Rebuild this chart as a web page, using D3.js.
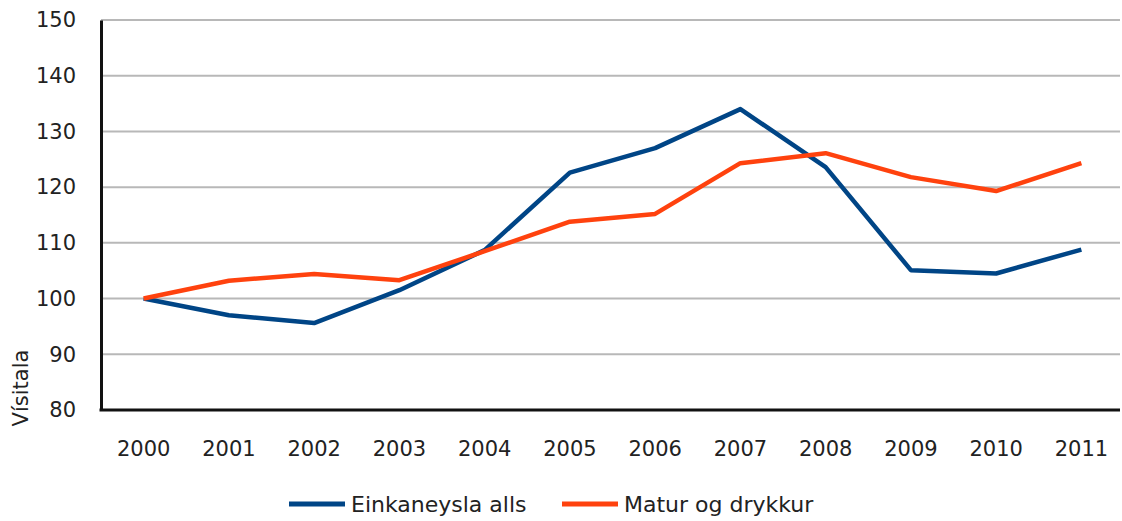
<!DOCTYPE html>
<html>
<head>
<meta charset="utf-8">
<script src="https://cdn.jsdelivr.net/npm/d3@7"></script>
<style>
  body { margin: 0; background: #fff; }
  svg text { font-family: "DejaVu Sans", sans-serif; fill: #222; }
</style>
</head>
<body>
<svg id="chart" width="1122" height="521"></svg>
<script>
// data
var years = ["2000","2001","2002","2003","2004","2005","2006","2007","2008","2009","2010","2011"];
var einkaneysla = [100, 97, 95.6, 101.5, 108.7, 122.6, 127, 134, 123.6, 105.1, 104.5, 108.8];
var matur = [100, 103.2, 104.4, 103.3, 108.5, 113.8, 115.2, 124.3, 126.1, 121.8, 119.3, 124.3];
var yTicks = [80, 90, 100, 110, 120, 130, 140, 150];
var seriesNames = ["Einkaneysla alls", "Matur og drykkur"];
var colors = ["#004586", "#ff420e"];

var svg = d3.select("#chart");

// plot area
var plotLeft = 101, plotRight = 1122, plotTop = 20, plotBottom = 410;

var x = d3.scaleBand()
	.domain(years)
	.range([plotLeft, plotRight + 2]);

var y = d3.scaleLinear()
	.domain([80, 150])
	.range([plotBottom, plotTop]);

// gridlines
svg.append("g")
	.selectAll("line")
	.data(yTicks.filter(function(d) { return d > 80; }))
	.enter()
	.append("line")
		.attr("x1", plotLeft)
		.attr("x2", plotRight - 2)
		.attr("y1", function(d) { return y(d); })
		.attr("y2", function(d) { return y(d); })
		.attr("stroke", "#b8b8b8")
		.attr("stroke-width", 2);

// y axis
var yAxis = svg.append("g")
	.attr("transform", "translate(" + plotLeft + ",0)")
	.call(d3.axisLeft(y).tickValues(yTicks).tickSize(0).tickPadding(25));
yAxis.select(".domain").attr("stroke", "#111").attr("stroke-width", 3);
yAxis.selectAll("text")
	.style("font-size", "21px")
	.attr("fill", "#222");

// x axis
var xAxis = svg.append("g")
	.attr("transform", "translate(0," + plotBottom + ")")
	.call(d3.axisBottom(x).tickSize(0).tickPadding(31));
xAxis.select(".domain")
	.attr("d", "M" + (plotLeft - 1.5) + ",0H" + (plotRight - 2))
	.attr("stroke", "#111").attr("stroke-width", 3);
xAxis.selectAll("text")
	.style("font-size", "21px")
	.attr("fill", "#222");

// y title
svg.append("text")
	.attr("transform", "translate(28,388) rotate(-90)")
	.attr("text-anchor", "middle")
	.style("font-size", "21px")
	.text("Vísitala");

// lines
var line = d3.line()
	.x(function(d, i) { return x(years[i]) + x.bandwidth() / 2; })
	.y(function(d) { return y(d); });

[einkaneysla, matur].forEach(function(vals, k) {
	svg.append("path")
		.datum(vals)
		.attr("fill", "none")
		.attr("stroke", colors[k])
		.attr("stroke-width", 4.5)
		.attr("stroke-linejoin", "round")
		.attr("d", line);
});

// legend
var legendX = [289, 562];
var leg = svg.append("g")
	.selectAll("g")
	.data(seriesNames)
	.enter()
	.append("g")
		.attr("transform", function(d, i) { return "translate(" + legendX[i] + ",504)"; });

leg.append("line")
	.attr("x1", 0).attr("x2", 56)
	.attr("stroke", function(d, i) { return colors[i]; })
	.attr("stroke-width", 5);

leg.append("text")
	.attr("x", 62)
	.attr("dy", "0.35em")
	.style("font-size", "22px")
	.text(function(d) { return d; });
</script>
</body>
</html>
